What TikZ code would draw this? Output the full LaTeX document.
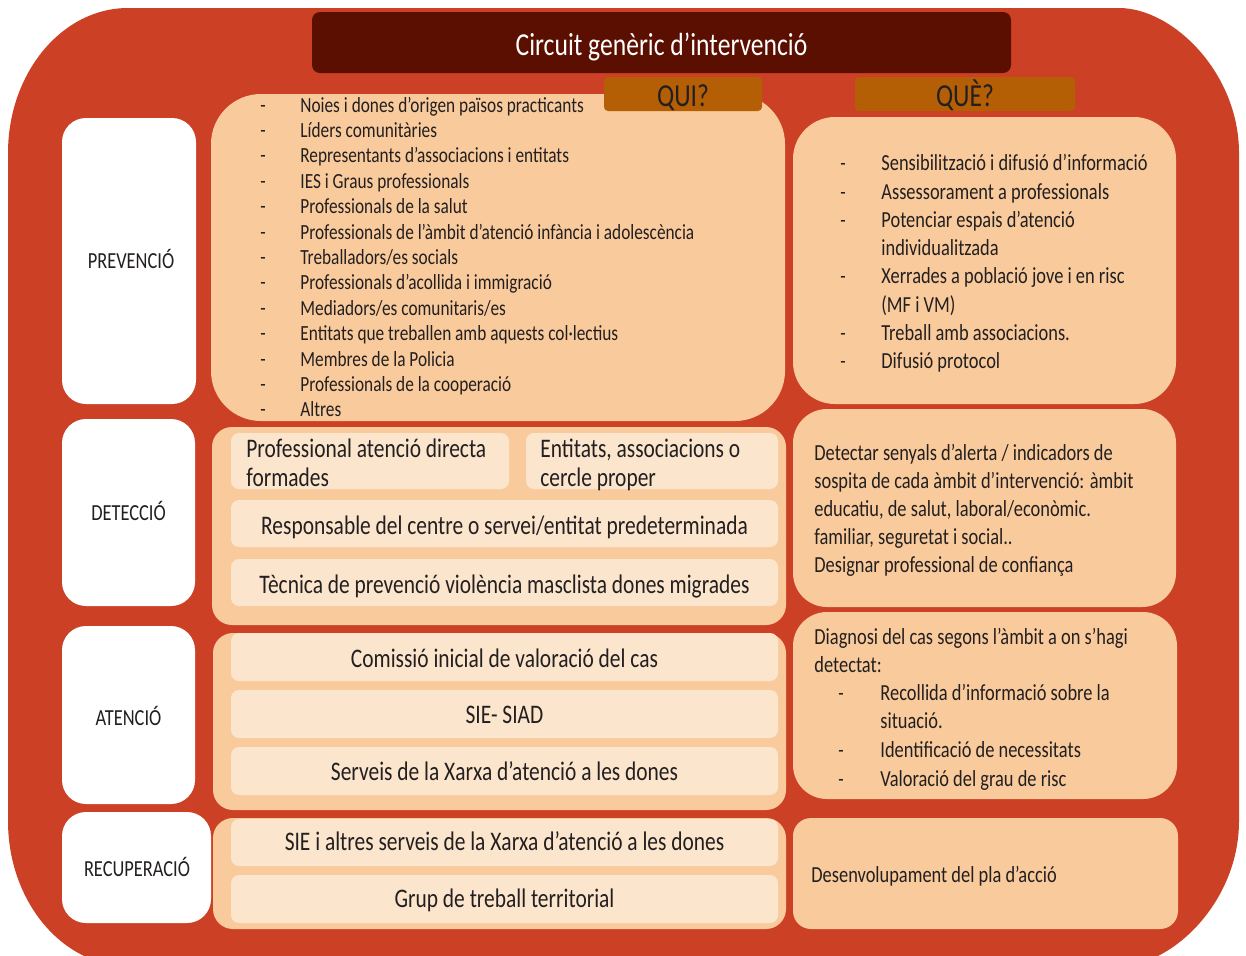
\documentclass[tikz,border=0pt]{standalone}
\usepackage{fontspec}
\setmainfont{Carlito}[FakeStretch=0.8]
\usetikzlibrary{fit}

\definecolor{vermell}{HTML}{CC4125}
\definecolor{granat}{HTML}{5B0F00}
\definecolor{ocre}{HTML}{B45F06}
\definecolor{taronja}{HTML}{F9CB9C}
\definecolor{crema}{HTML}{FCE5CD}
\definecolor{negre}{HTML}{231F20}

\tikzset{
  fase/.style={fill=white, rounded corners=12pt, inner sep=0pt},
  bloc/.style={fill=taronja, inner sep=0pt},
  subbloc/.style={fill=crema, rounded corners=4pt, inner sep=0pt},
  pregunta/.style={fill=ocre, rounded corners=2pt, inner sep=0pt},
  etiqueta/.style={anchor=base, inner sep=0pt, text=negre, font=\fontsize{11.5}{14}\selectfont},
  llista/.style={anchor=base west, inner sep=0pt, text=negre, font=\fontsize{10.8}{12.7}\selectfont},
  llistab/.style={llista, font=\fontsize{11.5}{14}\selectfont},
  guio/.style={anchor=base, inner sep=0pt, text=negre, font=\fontsize{11}{13}\selectfont},
  centrat/.style={anchor=base, inner sep=0pt, text=negre, font=\fontsize{13.4}{16}\selectfont},
  esquerra/.style={centrat, anchor=base west},
}

\begin{document}
\begin{tikzpicture}[x=0.5pt, y=-0.5pt]
\useasboundingbox (0,0) rectangle (1246,955);
\clip (0,0) rectangle (1246,955);
\fill[vermell] (8,153) .. controls (8,73) and (62,8) .. (128,8) -- (1119,8) .. controls (1173,8) and (1239,73) .. (1239,153)
  -- (1239,821) .. controls (1239,901) and (1173,966) .. (1119,966) -- (128,966) .. controls (62,966) and (8,901) .. (8,821) -- cycle;

\node[fill=granat, rounded corners=4pt, inner sep=0pt, fit={(312,12) (1011,73)}] (titol) {};
\node[anchor=base, text=white, font=\fontsize{16}{19}\selectfont] (titoltxt) at (661.5,55) {Circuit genèric d’intervenció};

% fases
\node[fase, fit={(62,118) (196,404)}] (prev) {};
\node[fase, fit={(62,419) (195,606)}] (det) {};
\node[fase, fit={(62,626) (195,804)}] (aten) {};
\node[fase, fit={(62,812) (211,923)}] (recup) {};
\node[etiqueta] (prevtxt) at (131,268) {PREVENCIÓ};
\node[etiqueta] (dettxt) at (128.5,520) {DETECCIÓ};
\node[etiqueta] (atentxt) at (128.5,725) {ATENCIÓ};
\node[etiqueta] (recuptxt) at (137,876) {RECUPERACIÓ};

% qui
\node[bloc, rounded corners=25pt, fit={(211,94) (785,421)}] (prevqui) {};
\node[bloc, rounded corners=10pt, fit={(212,427) (786,625)}] (detqui) {};
\node[bloc, rounded corners=10pt, fit={(213,633) (786,810)}] (atenqui) {};
\node[bloc, rounded corners=10pt, fit={(213,818) (786,929)}] (recupqui) {};

% que
\node[bloc, rounded corners=21pt, fit={(793,117) (1176,404)}] (prevque) {};
\node[bloc, rounded corners=17pt, fit={(793,409) (1176,607)}] (detque) {};
\node[bloc, rounded corners=17pt, fit={(793,612) (1177,799)}] (atenque) {};
\node[bloc, rounded corners=9pt, fit={(793,818) (1178,929)}] (recupque) {};

\node[pregunta, fit={(604,77) (762,111)}] (qui) {};
\node[pregunta, fit={(855,77) (1075,111)}] (que) {};
\node[anchor=base, inner sep=0pt, text=negre, font=\fontsize{16}{19}\selectfont] (quitxt) at (683,106) {QUI?};
\node[anchor=base, inner sep=0pt, text=negre, font=\fontsize{16}{19}\selectfont] (quetxt) at (965,106) {QUÈ?};

\foreach \txt [count=\i from 0] in {Noies i dones d’origen països practicants, Líders comunitàries,
  Representants d’associacions i entitats, IES i Graus professionals, Professionals de la salut,
  Professionals de l’àmbit d’atenció infància i adolescència, Treballadors/es socials,
  Professionals d’acollida i immigració, Mediadors/es comunitaris/es,
  Entitats que treballen amb aquests col·lectius, Membres de la Policia,
  Professionals de la cooperació, Altres}{
  \node[guio] (prevguio\i) at (263,112+25.4*\i) {-};
  \node[llista] (prevqui\i) at (300,112+25.4*\i) {\txt};
}

\node[guio] (pq1) at (843,170) {-};
\node[llistab] (pqt1) at (881,170) {Sensibilització i difusió d’informació};
\node[guio] (pq2) at (843,199) {-};
\node[llistab] (pqt2) at (881,199) {Assessorament a professionals};
\node[guio] (pq3) at (843,227) {-};
\node[llistab] (pqt3) at (881,227) {Potenciar espais d’atenció};
\node[llistab] (pqt3b) at (881,255) {individualitzada};
\node[guio] (pq4) at (843,283) {-};
\node[llistab] (pqt4) at (881,283) {Xerrades a població jove i en risc};
\node[llistab] (pqt4b) at (881,312) {(MF i VM)};
\node[guio] (pq5) at (843,340) {-};
\node[llistab] (pqt5) at (881,340) {Treball amb associacions.};
\node[guio] (pq6) at (843,368) {-};
\node[llistab] (pqt6) at (881,368) {Difusió protocol};

% deteccio
\node[subbloc, fit={(231,433) (509,489)}] (detprof) {};
\node[subbloc, fit={(526,433) (778,489)}] (detent) {};
\node[subbloc, fit={(231,500) (778,547)}] (detresp) {};
\node[subbloc, fit={(231,559) (778,606)}] (dettec) {};
\node[esquerra] (detproftxt) at (246,457) {Professional atenció directa};
\node[esquerra] (detproftxtb) at (246,486) {formades};
\node[esquerra] (detenttxt) at (540,457) {Entitats, associacions o};
\node[esquerra] (detenttxtb) at (540,486) {cercle proper};
\node[centrat] (detresptxt) at (504.5,534) {Responsable del centre o servei/entitat predeterminada};
\node[centrat] (dettectxt) at (504.5,593) {Tècnica de prevenció violència masclista dones migrades};

\foreach \txt [count=\i from 0] in {Detectar senyals d’alerta / indicadors de,
  sospita de cada àmbit d’intervenció: àmbit, {educatiu, de salut, laboral/econòmic.},
  {familiar, seguretat i social..}, Designar professional de confiança}{
  \node[llistab] (detque\i) at (814,460+28*\i) {\txt};
}

% atencio
\node[subbloc, fit={(231,633) (778,681)}] (atencom) {};
\node[subbloc, fit={(231,690) (778,738)}] (atensie) {};
\node[subbloc, fit={(231,747) (778,795)}] (atenserv) {};
\node[centrat] (atencomtxt) at (504.5,667) {Comissió inicial de valoració del cas};
\node[centrat] (atensietxt) at (504.5,723) {SIE- SIAD};
\node[centrat] (atenservtxt) at (504.5,780) {Serveis de la Xarxa d’atenció a les dones};

\node[llistab] (aq1) at (814,644) {Diagnosi del cas segons l’àmbit a on s’hagi};
\node[llistab] (aq1b) at (814,672) {detectat:};
\node[guio] (ag2) at (841,700) {-};
\node[llistab] (aq2) at (880,700) {Recollida d’informació sobre la};
\node[llistab] (aq2b) at (880,728) {situació.};
\node[guio] (ag3) at (841,757) {-};
\node[llistab] (aq3) at (880,757) {Identificació de necessitats};
\node[guio] (ag4) at (841,786) {-};
\node[llistab] (aq4) at (880,786) {Valoració del grau de risc};

% recuperacio
\node[subbloc, fit={(231,819) (778,866)}] (recupsie) {};
\node[subbloc, fit={(231,875) (778,923)}] (recupgrup) {};
\node[centrat] (recupsietxt) at (504.5,850) {SIE i altres serveis de la Xarxa d’atenció a les dones};
\node[centrat] (recupgruptxt) at (504.5,907) {Grup de treball territorial};
\node[llistab] (rq1) at (811,882) {Desenvolupament del pla d’acció};
\end{tikzpicture}
\end{document}
